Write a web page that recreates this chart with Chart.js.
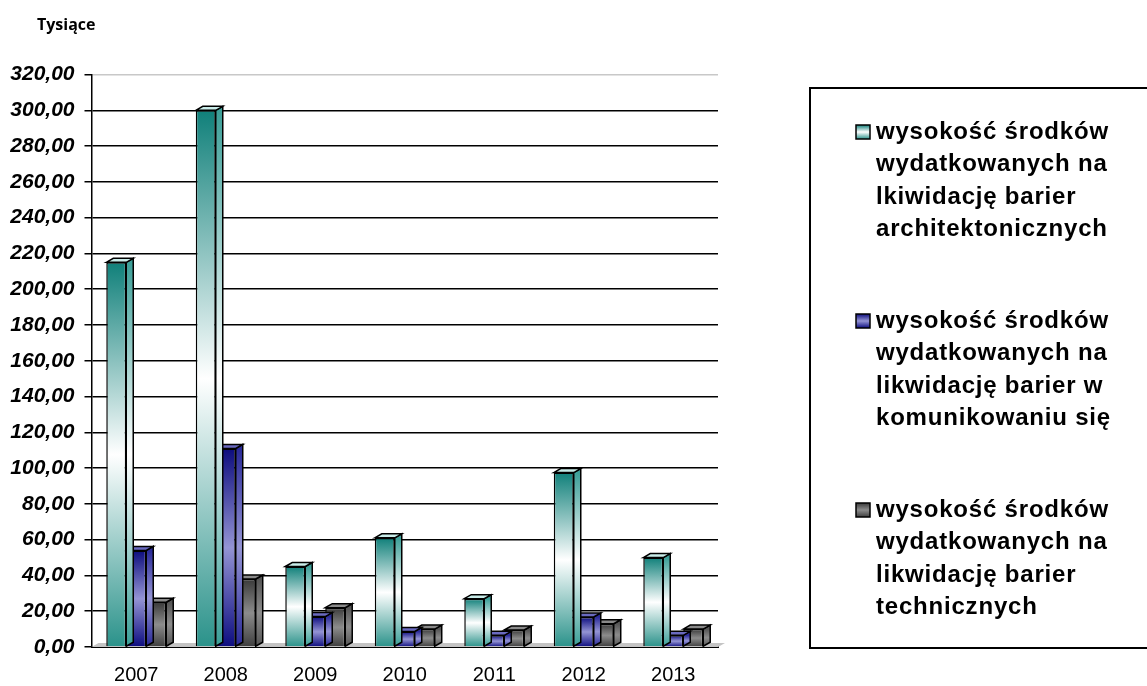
<!DOCTYPE html>
<html>
<head>
<meta charset="utf-8">
<script src="https://cdn.jsdelivr.net/npm/chart.js@4.4.0/dist/chart.umd.min.js"></script>
<style>
  html, body { margin: 0; padding: 0; background: #fff; }
  #wrap { width: 1147px; height: 686px; position: relative; }
</style>
</head>
<body>
<div id="wrap"><canvas id="chart"></canvas></div>
<script>
// dane z wykresu (tys. zł)
var years = ['2007', '2008', '2009', '2010', '2011', '2012', '2013'];
var architektoniczne = [215, 300, 45, 61, 27, 97.5, 50];
var komunikowanie = [54, 111, 17, 8.7, 6.5, 16.8, 6.5];
var techniczne = [25, 38, 22, 10, 9.5, 13, 10];
var yTicks = [0, 20, 40, 60, 80, 100, 120, 140, 160, 180, 200, 220, 240, 260, 280, 300, 320];

var labelArch = ['wysokość środków', 'wydatkowanych na', 'lkiwidację barier', 'architektonicznych'];
var labelKom = ['wysokość środków', 'wydatkowanych na', 'likwidację barier w', 'komunikowaniu się'];
var labelTech = ['wysokość środków', 'wydatkowanych na', 'likwidację barier', 'technicznych'];

// kolory serii
var palettes = [
    { top: '#10807a', mid: '#ffffff', bot: '#2a928a', lid: '#c9ece9', side: '#3c9f98' },
    { top: '#0c0c7e', mid: '#9494d4', bot: '#0c0c80', lid: '#6a6ac0', side: '#2a2a98' },
    { top: '#3a3a3a', mid: '#8c8c8c', bot: '#3e3e3e', lid: '#8a8a8a', side: '#555555' }
];

var DEPTH = 7, RISE = 4;

function barGradient(ctx, pal) {
    var chart = ctx.chart;
    if (!chart.chartArea || ctx.raw === undefined) return pal.top;
    var y = chart.scales.y;
    var top = y.getPixelForValue(ctx.raw);
    var bot = y.getPixelForValue(0);
    if (bot - top < 1) top = bot - 1;
    var g = chart.ctx.createLinearGradient(0, top, 0, bot);
    g.addColorStop(0, pal.top);
    g.addColorStop(0.5, pal.mid);
    g.addColorStop(1, pal.bot);
    return g;
}

var fmt = function(v) { return v.toFixed(2).replace('.', ','); };

var depthPlugin = {
    id: 'depth',
    beforeDatasetsDraw: function(chart) {
        var a = chart.chartArea, c = chart.ctx;
        c.save();
        c.fillStyle = '#c4c4c4';
        c.beginPath();
        c.moveTo(a.left, a.bottom);
        c.lineTo(a.left + DEPTH, a.bottom - RISE);
        c.lineTo(a.right + DEPTH, a.bottom - RISE);
        c.lineTo(a.right, a.bottom);
        c.closePath();
        c.fill();
        c.restore();
    },
    beforeDatasetDraw: function(chart, args) {
        var c = chart.ctx;
        var pal = palettes[args.index];
        var meta = chart.getDatasetMeta(args.index);
        c.save();
        c.lineWidth = 1.5;
        c.strokeStyle = '#000';
        meta.data.forEach(function(bar) {
            var p = bar.getProps(['x', 'y', 'base', 'width'], true);
            var l = p.x - p.width / 2, r = p.x + p.width / 2;
            // bok
            var g = c.createLinearGradient(0, p.y, 0, p.base);
            g.addColorStop(0, pal.side);
            g.addColorStop(0.5, pal.mid);
            g.addColorStop(1, pal.side);
            c.fillStyle = g;
            c.beginPath();
            c.moveTo(r, p.y);
            c.lineTo(r + DEPTH, p.y - RISE);
            c.lineTo(r + DEPTH, p.base - RISE);
            c.lineTo(r, p.base);
            c.closePath();
            c.fill();
            c.stroke();
            // wieko
            c.fillStyle = pal.lid;
            c.beginPath();
            c.moveTo(l, p.y);
            c.lineTo(l + DEPTH, p.y - RISE);
            c.lineTo(r + DEPTH, p.y - RISE);
            c.lineTo(r, p.y);
            c.closePath();
            c.fill();
            c.stroke();
        });
        c.restore();
    },
    afterDraw: function(chart) {
        var c = chart.ctx;
        c.save();
        c.fillStyle = '#000';
        c.font = 'bold 16px "Open Sans"';
        c.textBaseline = 'middle';
        c.fillText('Tysiące', 37, 25);

        // legenda
        c.lineWidth = 2;
        c.strokeStyle = '#000';
        c.strokeRect(810, 88, 345, 560);
        c.font = 'bold 24px "Liberation Sans"';
        c.letterSpacing = '0.8px';
        chart.data.datasets.forEach(function(ds, i) {
            var y0 = 132 + i * 189;
            var pal = palettes[i];
            var g = c.createLinearGradient(0, y0 - 7, 0, y0 + 7);
            g.addColorStop(0, pal.top);
            g.addColorStop(0.5, pal.mid);
            g.addColorStop(1, pal.bot);
            c.fillStyle = g;
            c.fillRect(856, y0 - 7, 14, 14);
            c.lineWidth = 1.5;
            c.strokeRect(856, y0 - 7, 14, 14);
            c.fillStyle = '#000';
            ds.label.forEach(function(line, k) {
                c.fillText(line, 876, y0 + k * 32.5);
            });
        });
        c.restore();
    }
};

var ctx = document.getElementById('chart');
new Chart(ctx, {
    type: 'bar',
    data: {
        labels: years,
        datasets: [
            { label: labelArch, data: architektoniczne, backgroundColor: function(x) { return barGradient(x, palettes[0]); } },
            { label: labelKom, data: komunikowanie, backgroundColor: function(x) { return barGradient(x, palettes[1]); } },
            { label: labelTech, data: techniczne, backgroundColor: function(x) { return barGradient(x, palettes[2]); } }
        ]
    },
    options: {
        responsive: true,
        maintainAspectRatio: false,
        animation: false,
        layout: { padding: { left: 0, right: 429, top: 74.5, bottom: 0 } },
        datasets: {
            bar: {
                borderColor: '#000',
                borderWidth: 1.5,
                categoryPercentage: 0.67,
                barPercentage: 1
            }
        },
        plugins: {
            legend: { display: false },
            tooltip: { enabled: false }
        },
        scales: {
            x: {
                afterFit: function(scale) { scale.height = 39; },
                grid: { display: false, drawTicks: false },
                border: { display: true, color: '#000', width: 2 },
                ticks: {
                    color: '#000',
                    padding: 16,
                    font: { family: '"Liberation Sans"', size: 20 }
                }
            },
            y: {
                min: 0,
                max: 320,
                afterFit: function(scale) { scale.width = 91.5; },
                afterBuildTicks: function(scale) {
                    scale.ticks = yTicks.map(function(v) { return { value: v }; });
                },
                grid: {
                    color: function(c) { return c.tick && c.tick.value === 320 ? '#c8c8c8' : '#000'; },
                    lineWidth: 1.5,
                    tickColor: '#000',
                    tickLength: 7
                },
                border: { display: true, color: '#000', width: 1.5 },
                ticks: {
                    color: '#000',
                    padding: 10,
                    font: { family: '"Liberation Sans"', size: 21, style: 'italic', weight: 'bold' },
                    callback: function(v) { return fmt(v); }
                }
            }
        }
    },
    plugins: [depthPlugin]
});
</script>
</body>
</html>
